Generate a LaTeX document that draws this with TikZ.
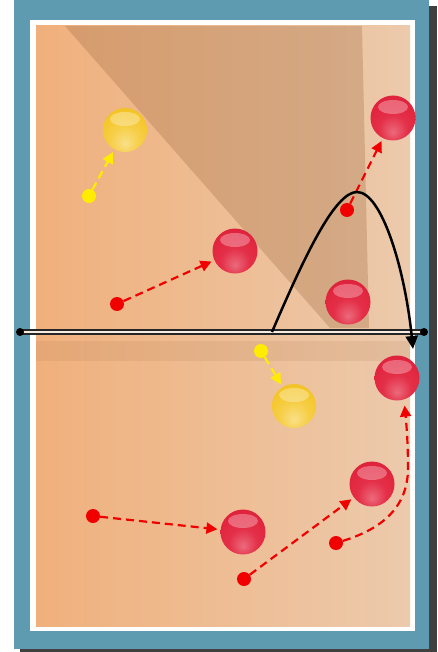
\documentclass[tikz,border=0pt]{standalone}
\usetikzlibrary{arrows.meta}
\definecolor{frameblue}{RGB}{94,155,176}
\definecolor{courtleft}{RGB}{240,176,124}
\definecolor{courtright}{RGB}{236,202,172}
\definecolor{zonebrown}{RGB}{170,118,78}
\definecolor{ballred}{RGB}{226,36,62}
\definecolor{ballyellow}{RGB}{245,198,40}
\definecolor{movered}{RGB}{240,0,0}
\definecolor{moveyellow}{RGB}{255,236,0}
\pgfdeclareradialshading{redsphere}{\pgfpoint{0bp}{-16bp}}{%
  color(0bp)=(ballred!68!white); color(16bp)=(ballred!95!white);
  color(30bp)=(ballred); color(50bp)=(ballred!85!black); color(70bp)=(ballred!85!black)}
\pgfdeclareradialshading{yellowsphere}{\pgfpoint{0bp}{-16bp}}{%
  color(0bp)=(ballyellow!55!white); color(16bp)=(ballyellow!85!white);
  color(30bp)=(ballyellow); color(50bp)=(ballyellow!90!black); color(70bp)=(ballyellow!90!black)}
\begin{document}
\begin{tikzpicture}[
  x=1pt,y=-1pt,
  gloss/.style={path picture={\fill[white,opacity=.3]
    ([yshift=11pt]path picture bounding box.center) ellipse (15pt and 7pt);}},
  redball/.style={circle,minimum size=45pt,inner sep=0pt,shading=redsphere,gloss},
  yellowball/.style={circle,minimum size=44pt,inner sep=0pt,shading=yellowsphere,gloss},
  reddot/.style={circle,fill=movered,minimum size=14pt,inner sep=0pt},
  yellowdot/.style={circle,fill=moveyellow,minimum size=14pt,inner sep=0pt},
  redmove/.style={movered,line width=2.2pt,dash pattern=on 8pt off 5pt,
    -{Triangle[length=11pt,width=11pt]},shorten >=3pt},
  yellowmove/.style={redmove,moveyellow},
  post/.style={circle,fill=black,minimum size=8pt,inner sep=0pt},
  trajectory/.style={black,line width=2.5pt,-{Triangle[length=13pt,width=12pt]}}
]
\useasboundingbox (0,0) rectangle (437,652);
% frame and court
\fill[black!75] (20,6) rectangle (437,652);
\fill[frameblue] (14,0) rectangle (429,649);
\fill[white] (30,20) rectangle (415,631);
\shade[left color=courtleft,right color=courtright] (36,26) rectangle (410,626);
\fill[zonebrown,opacity=.36] (65,26) -- (362,26) -- (369,328) -- (330,328) -- cycle;
% net
\fill[zonebrown,opacity=.15] (36,341) rectangle (410,361);
\draw[black!85,line width=6pt] (20,332) -- (424,332);
\draw[white!85!brown,line width=2pt] (20,332) -- (424,332);
\node[post] (pl) at (20,332) {};
\node[post] (pr) at (424,332) {};

% players
\node[yellowball] (y1) at (125,130) {};
\node[yellowball] (y2) at (294,406) {};
\node[redball] (r1) at (393,118) {};
\node[redball] (r2) at (235,251) {};
\node[redball] (r3) at (348,302) {};
\node[redball] (r4) at (397,378) {};
\node[redball] (r5) at (372,484) {};
\node[redball] (r6) at (243,532) {};

\node[yellowdot] (yd1) at (89,196) {};
\node[yellowdot] (yd2) at (261,351) {};
\node[reddot] (rd1) at (347,210) {};
\node[reddot] (rd2) at (117,304) {};
\node[reddot] (rd3) at (93,516) {};
\node[reddot] (rd4) at (244,579) {};
\node[reddot] (rd5) at (336,543) {};

% moves
\draw[yellowmove] (yd1) -- (y1);
\draw[yellowmove] (yd2) -- (y2);
\draw[redmove] (rd1) -- (r1);
\draw[redmove] (rd2) -- (r2);
\draw[redmove] (rd3) -- (r6);
\draw[redmove] (rd4) -- (r5);
\draw[redmove,shorten >=6pt] (rd5) .. controls (378,530) and (408,510) .. (408,468)
  .. controls (408,440) and (406,420) .. (r4.-72);

% ball flight
\coordinate (hit) at (272,332);
\coordinate (land) at (413,349);
\draw[trajectory] (hit) .. controls (305,255) and (335,192) .. (357,192)
  .. controls (382,192) and (405,270) .. (land);
\end{tikzpicture}
\end{document}
